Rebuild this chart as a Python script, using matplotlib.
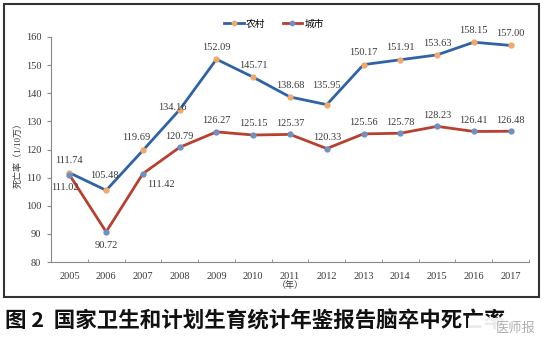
import numpy as np
import matplotlib
matplotlib.use('Agg')
import matplotlib.pyplot as plt
from matplotlib.patches import Rectangle

plt.rcParams['font.family'] = ['Liberation Serif', 'Noto Sans CJK SC', 'DejaVu Sans']

#######################################################
# data
years = ['2005', '2006', '2007', '2008', '2009', '2010', '2011',
         '2012', '2013', '2014', '2015', '2016', '2017']
rural = [111.74, 105.48, 119.69, 134.16, 152.09, 145.71, 138.68,
         135.95, 150.17, 151.91, 153.63, 158.15, 157.00]
urban = [111.02, 90.72, 111.42, 120.79, 126.27, 125.15, 125.37,
         120.33, 125.56, 125.78, 128.23, 126.41, 126.48]
yticks = [80, 90, 100, 110, 120, 130, 140, 150, 160]

# label offsets in points (dx, dy), default is straight above
rural_off = {1: (-1.5, 11), 2: (-4.5, 9.5), 3: (-5, 1.5), 7: (-0.5, 13.5)}
urban_off = {0: (-3, -9.5), 1: (0, -9.5), 2: (13, -8)}

blue = '#2f63a6'
red = '#b8402f'
txt = '#3a3a3a'

#######################################################
fig = plt.figure(figsize=(5.44, 3.38), dpi=100)
ax = fig.add_axes([51/544, 1-262/338, 478/544, 225/338])

x = np.arange(len(years))
ax.plot(x, rural, color=blue, lw=2.0, marker='o', ms=3.5,
        mfc='#f2a86a', mec='#f2a86a', label='农村', zorder=3)
ax.plot(x, urban, color=red, lw=2.0, marker='o', ms=3.5,
        mfc='#7090c4', mec='#7090c4', label='城市', zorder=3)

for i, v in enumerate(rural):
    dx, dy = rural_off.get(i, (0, 8.5))
    ax.annotate('%.2f' % v, (i, v), xytext=(dx, dy), textcoords='offset points',
                ha='center', va='center', fontsize=7.5, color=txt)
for i, v in enumerate(urban):
    dx, dy = urban_off.get(i, (0, 8))
    ax.annotate('%.2f' % v, (i, v), xytext=(dx, dy), textcoords='offset points',
                ha='center', va='center', fontsize=7.5, color=txt)

ax.set_xlim(-0.5, 12.5)
ax.set_ylim(80, 160)
ax.set_yticks(yticks)
ax.set_xticks(x)
ax.set_xticklabels(years)
ax.set_xticks(np.arange(-0.5, 13, 1), minor=True)
ax.tick_params(axis='x', which='major', length=0, pad=7, labelsize=7.5, colors=txt)
ax.tick_params(axis='x', which='minor', length=2.5, direction='in', color='#888888')
ax.tick_params(axis='y', length=3, direction='out', labelsize=7.5, colors=txt, pad=4, color='#888888')
for s in ['top', 'right']:
    ax.spines[s].set_visible(False)
for s in ['left', 'bottom']:
    ax.spines[s].set_color('#888888')
    ax.spines[s].set_linewidth(0.8)

fig.text(290/544, 1-286/338, '（年）', ha='center', va='center', fontsize=6.5, color=txt)
fig.text(18/544, 1-153/338, '死亡率（1/10万）', rotation=90, ha='center', va='center',
         fontsize=6.5, color=txt)

fig.legend(loc='center', bbox_to_anchor=(274/544, 1-24/338), ncol=2, frameon=False,
           fontsize=7, handlelength=2.0, handletextpad=0.2, columnspacing=1.8,
           markerscale=0.9)

# outer frame of the chart
fig.patches.append(Rectangle((4/544, 1-297/338), 535/544, 293/338, transform=fig.transFigure,
                             fill=False, ec='#333333', lw=1.5))

# caption, lower right part hidden under the watermark
fig.text(5/544, 1-321/338, '图 2  国家卫生和计划生育统计年鉴报告脑卒中死亡率', ha='left', va='center',
         fontsize=15.5, fontweight='black', family=['Noto Sans CJK SC', 'DejaVu Sans'], color='#111111')
fig.patches.append(Rectangle((468/544, 0), 76/544, 20/338, transform=fig.transFigure,
                             fc='white', ec='none', alpha=0.92, zorder=5))
fig.text(516/544, 1-328/338, '医师报', ha='center', va='center', fontsize=9.5,
         family=['Noto Sans CJK SC'], color='#b0b0b0', zorder=6)

fig.savefig('out.png', dpi=100)
